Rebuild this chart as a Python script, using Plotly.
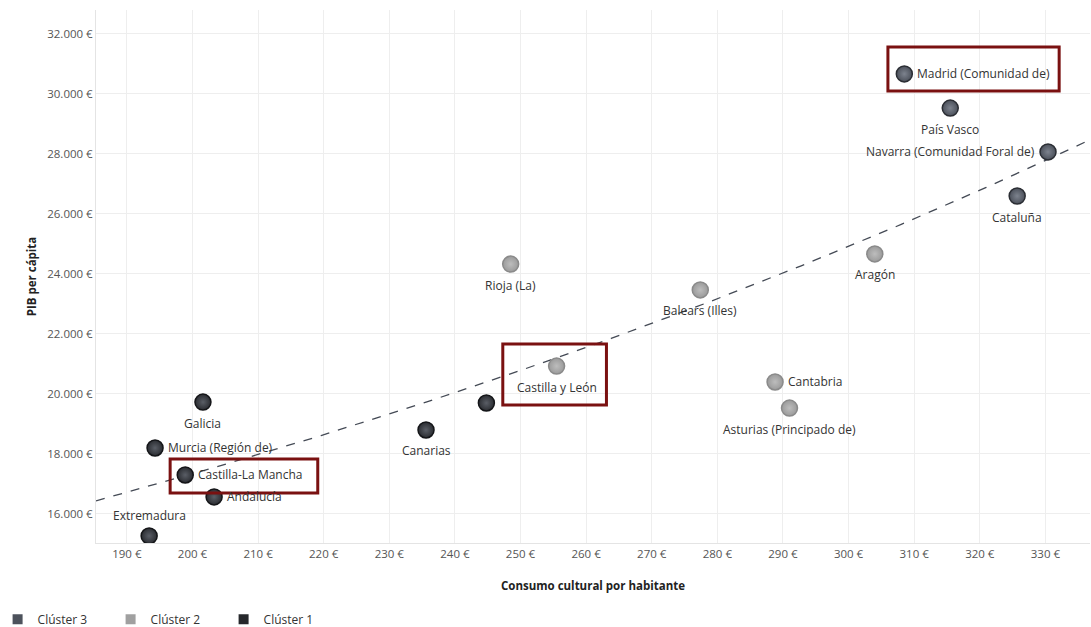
import numpy as np
import plotly.graph_objects as go

# ---- data ----
regions = ["Madrid (Comunidad de)", "País Vasco", "Navarra (Comunidad Foral de)", "Cataluña",
           "Aragón", "Balears (Illes)", "Rioja (La)", "Castilla y León", "Cantabria",
           "Asturias (Principado de)", "Galicia", "Murcia (Región de)", "Castilla-La Mancha",
           "Andalucía", "Extremadura", "Canarias", ""]
consumo = [308.5, 315.5, 330.4, 325.7, 304.0, 277.4, 248.5, 255.5, 288.8, 291.0,
           201.6, 194.3, 198.9, 203.3, 193.4, 235.6, 244.8]
pib = [30660, 29520, 28060, 26590, 24660, 23460, 24320, 20920, 20390, 19520,
       19720, 18190, 17290, 16560, 15260, 18790, 19690]
cluster = [3, 3, 3, 3, 2, 2, 2, 2, 2, 2, 1, 1, 1, 1, 1, 1, 1]
label_side = ["right", "below", "left", "below", "below", "below", "below", "below", "right",
              "below", "below", "right", "right", "right", "above", "below", "below"]
legend_order = [3, 2, 1]
legend_names = {3: "Clúster 3", 2: "Clúster 2", 1: "Clúster 1"}

# ---- styles ----
edge = {3: "#4b505a", 2: "#9a9a9a", 1: "#2a2c31"}
center = {3: "#7d838e", 2: "#bdbdbd", 1: "#5a5e66"}
outline = {3: "#2a2d33", 2: "#8a8a8a", 1: "#141518"}
legend_col = {3: "#4d525c", 2: "#a0a0a0", 1: "#26282c"}
FONT = "Open Sans"
side_style = {
    "right": dict(xanchor="left", yanchor="middle", xshift=11, yshift=0),
    "left": dict(xanchor="right", yanchor="middle", xshift=-11, yshift=0),
    "below": dict(xanchor="center", yanchor="middle", xshift=0, yshift=-21),
    "above": dict(xanchor="center", yanchor="middle", xshift=0, yshift=20),
}

fig = go.Figure()

# exponential trend line fitted to the data
xs = np.array(consumo)
ys = np.array(pib)
b, ln_a = np.polyfit(xs, np.log(ys), 1)
xt = np.linspace(185.3, 337, 200)
yt = np.exp(ln_a + b * xt)
fig.add_trace(go.Scatter(x=xt, y=yt, mode="lines", showlegend=False, hoverinfo="skip",
                         line=dict(color="#444a55", width=1.3, dash="dash")))

for c in [2, 3, 1]:
    idx = [i for i, k in enumerate(cluster) if k == c]
    fig.add_trace(go.Scatter(
        x=[consumo[i] for i in idx], y=[pib[i] for i in idx],
        mode="markers", showlegend=False, hovertext=[regions[i] for i in idx],
        marker=dict(size=16, color=edge[c], line=dict(color=outline[c], width=1.5),
                    gradient=dict(type="radial", color=center[c]))))

for name, xv, yv, side in zip(regions, consumo, pib, label_side):
    if name:
        fig.add_annotation(x=xv, y=yv, text=name, showarrow=False,
                           font=dict(family=FONT, size=12, color="#333333"),
                           **side_style[side])

for c in legend_order:
    fig.add_trace(go.Scatter(x=[None], y=[None], mode="markers", name=legend_names[c],
                             marker=dict(symbol="square", size=10, color=legend_col[c])))

# highlight boxes
boxes = [(306.0, 332.1, 30090, 31557), (247.3, 263.1, 19623, 21657), (196.6, 219.1, 16690, 17823)]
for x0, x1, y0, y1 in boxes:
    fig.add_shape(type="rect", x0=x0, x1=x1, y0=y0, y1=y1, xref="x", yref="y",
                  line=dict(color="#7a1111", width=3), layer="above")

fig.update_layout(
    width=1091, height=627,
    margin=dict(l=96, r=1, t=10, b=84, autoexpand=False),
    plot_bgcolor="white", paper_bgcolor="white",
    separators=",.",
    font=dict(family=FONT, size=11, color="#555555"),
    legend=dict(orientation="h", x=-0.099, y=-0.143, xanchor="left", yanchor="middle",
                entrywidth=68, entrywidthmode="pixels",
                font=dict(family=FONT, size=12, color="#333333"),
                itemclick=False),
    xaxis=dict(range=[185.3, 336.8], tickmode="linear", tick0=190, dtick=10, ticksuffix=" €",
               showgrid=True, gridcolor="#eeeeee", zeroline=False,
               showline=True, linecolor="#e4e4e4", ticks="",
               tickfont=dict(size=11.5, color="#555555"),
               title=dict(text="<b>Consumo cultural por habitante</b>", standoff=22,
                          font=dict(size=11.5, color="#222222"))),
    yaxis=dict(range=[15023, 32790], tickmode="linear", tick0=16000, dtick=2000,
               tickformat=",.0f", ticksuffix=" €",
               showgrid=True, gridcolor="#eeeeee", zeroline=False,
               showline=True, linecolor="#e4e4e4", ticks="",
               tickfont=dict(size=11.5, color="#555555"),
               title=dict(text="<b>PIB per cápita</b>", standoff=8,
                          font=dict(size=11.5, color="#222222"))),
)

fig.write_html("out.html", config={"displayModeBar": False},
               post_script="document.body.style.margin='0';document.body.style.overflow='hidden';")
